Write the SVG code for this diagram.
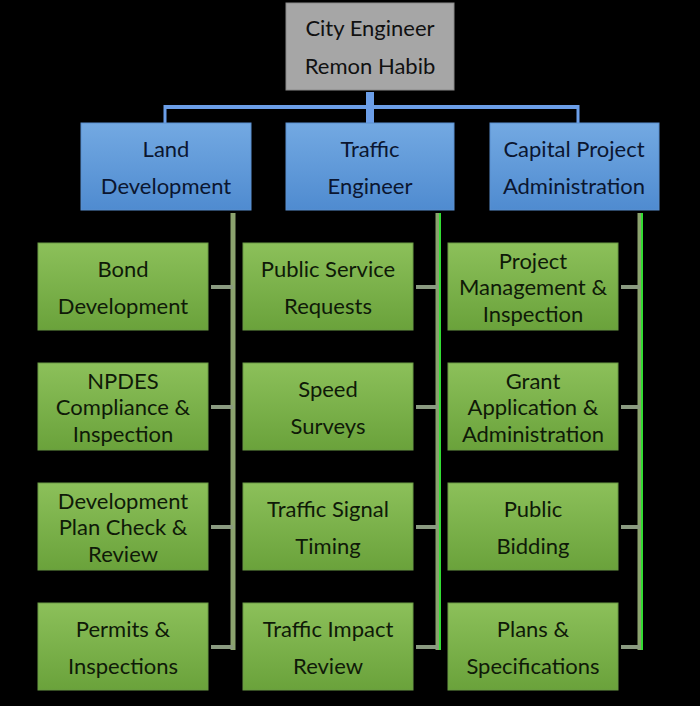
<svg xmlns="http://www.w3.org/2000/svg" width="700" height="706" viewBox="0 0 700 706">
<defs>
<linearGradient id="gBlue" x1="0" y1="0" x2="0" y2="1"><stop offset="0" stop-color="#73a9e2"/><stop offset="1" stop-color="#4f8bd0"/></linearGradient>
<linearGradient id="gGreen" x1="0" y1="0" x2="0" y2="1"><stop offset="0" stop-color="#8cc05a"/><stop offset="1" stop-color="#6aa23b"/></linearGradient>
<style>
.t{font-family:Lato,"Open Sans","Liberation Sans",sans-serif;font-size:22px;text-anchor:middle}
.top{fill:#a6a6a6;stroke:#8a8a8a;stroke-width:1}
.blue{fill:url(#gBlue);stroke:#5b8fcf;stroke-width:1}
.green{fill:url(#gGreen);stroke:#6a9a45;stroke-width:1}
.tb{fill:#0b1630}
.tg{fill:#0f1a08}
.tk{fill:#111}
.vl{stroke:#8ba26e;stroke-width:5;fill:none}
.vg{stroke:#33dd33;stroke-width:2;fill:none}
.hl{stroke:#8a9a80;stroke-width:4;fill:none}
.bl{stroke:#6b9ee8;fill:none}
</style>
</defs>
<rect x="0" y="0" width="700" height="706" fill="#000"/>
<g id="connectors">
<line class="bl" x1="165" y1="107" x2="578" y2="107" stroke-width="4"/>
<line class="bl" x1="370" y1="92" x2="370" y2="123" stroke-width="8"/>
<line class="bl" x1="165" y1="105" x2="165" y2="123" stroke-width="3"/>
<line class="bl" x1="578" y1="105" x2="578" y2="123" stroke-width="3"/>
<path class="vl" d="M233 213V650"/>
<path class="vl" d="M438 213V650"/>
<path class="vg" d="M440 213V650"/>
<path class="vl" d="M640 213V650"/>
<path class="vg" d="M642 213V650"/>
<path class="hl" d="M233 287H211M233 407H211M233 527H211M233 647H211"/>
<path class="hl" d="M438 287H416M438 407H416M438 527H416M438 647H416"/>
<path class="hl" d="M640 287H621M640 407H621M640 527H621M640 647H621"/>
</g>
<g id="city-engineer"><rect class="top" x="286" y="3" width="168" height="87"/><text class="t tk" x="370" y="36">City Engineer</text><text class="t tk" x="370" y="74">Remon Habib</text></g>
<g id="land-development"><rect class="blue" x="81" y="123" width="170" height="87"/><text class="t tb" x="166" y="157">Land</text><text class="t tb" x="166" y="194">Development</text></g>
<g id="traffic-engineer"><rect class="blue" x="286" y="123" width="168" height="87"/><text class="t tb" x="370" y="157">Traffic</text><text class="t tb" x="370" y="194">Engineer</text></g>
<g id="capital-project"><rect class="blue" x="490" y="123" width="169" height="87"/><text class="t tb" x="574" y="157">Capital Project</text><text class="t tb" x="574" y="194">Administration</text></g>
<g id="bond-development"><rect class="green" x="38" y="243" width="170" height="87"/><text class="t tg" x="123" y="277">Bond</text><text class="t tg" x="123" y="314">Development</text></g>
<g id="npdes"><rect class="green" x="38" y="363" width="170" height="87"/><text class="t tg" x="123" y="389">NPDES</text><text class="t tg" x="123" y="415">Compliance &amp;</text><text class="t tg" x="123" y="442">Inspection</text></g>
<g id="dev-plan-check"><rect class="green" x="38" y="483" width="170" height="87"/><text class="t tg" x="123" y="509">Development</text><text class="t tg" x="123" y="535">Plan Check &amp;</text><text class="t tg" x="123" y="562">Review</text></g>
<g id="permits"><rect class="green" x="38" y="603" width="170" height="87"/><text class="t tg" x="123" y="637">Permits &amp;</text><text class="t tg" x="123" y="674">Inspections</text></g>
<g id="public-service"><rect class="green" x="243" y="243" width="170" height="87"/><text class="t tg" x="328" y="277">Public Service</text><text class="t tg" x="328" y="314">Requests</text></g>
<g id="speed-surveys"><rect class="green" x="243" y="363" width="170" height="87"/><text class="t tg" x="328" y="397">Speed</text><text class="t tg" x="328" y="434">Surveys</text></g>
<g id="signal-timing"><rect class="green" x="243" y="483" width="170" height="87"/><text class="t tg" x="328" y="517">Traffic Signal</text><text class="t tg" x="328" y="554">Timing</text></g>
<g id="impact-review"><rect class="green" x="243" y="603" width="170" height="87"/><text class="t tg" x="328" y="637">Traffic Impact</text><text class="t tg" x="328" y="674">Review</text></g>
<g id="project-mgmt"><rect class="green" x="448" y="243" width="170" height="87"/><text class="t tg" x="533" y="269">Project</text><text class="t tg" x="533" y="295">Management &amp;</text><text class="t tg" x="533" y="322">Inspection</text></g>
<g id="grant-app"><rect class="green" x="448" y="363" width="170" height="87"/><text class="t tg" x="533" y="389">Grant</text><text class="t tg" x="533" y="415">Application &amp;</text><text class="t tg" x="533" y="442">Administration</text></g>
<g id="public-bidding"><rect class="green" x="448" y="483" width="170" height="87"/><text class="t tg" x="533" y="517">Public</text><text class="t tg" x="533" y="554">Bidding</text></g>
<g id="plans-specs"><rect class="green" x="448" y="603" width="170" height="87"/><text class="t tg" x="533" y="637">Plans &amp;</text><text class="t tg" x="533" y="674">Specifications</text></g>
</svg>
